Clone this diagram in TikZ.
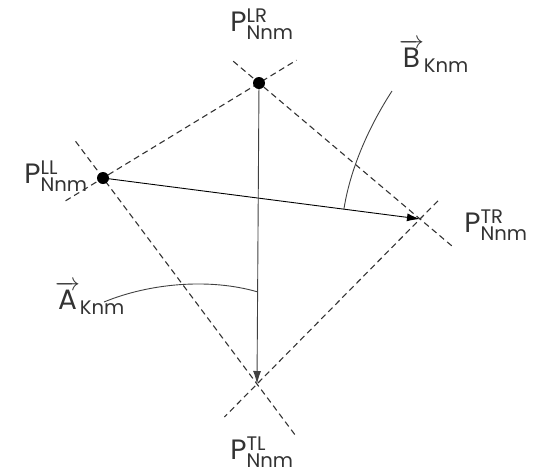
\documentclass[tikz,border=0pt]{standalone}
\usepackage{amsmath}
\usepackage{fontspec}
\setmainfont{Poppins}
\usetikzlibrary{calc,arrows.meta}

\tikzset{
  edge/.style={dash pattern=on 6pt off 4pt, line width=1.1pt, black!80},
  vec/.style={-{Latex[length=13pt,width=8pt]}, line width=0.9pt},
  vertex/.style={circle, fill=black, inner sep=0pt, minimum size=12pt},
  lbl/.style={font=\fontsize{28}{32}\selectfont, text=black!80, inner sep=0pt}
}

\begin{document}
\begin{tikzpicture}[x=1pt,y=-1pt]
    \useasboundingbox (0,0) rectangle (533,475);
    % corners
    \coordinate (LR) at (259,83);
    \coordinate (LL) at (103,178);
    \coordinate (TR) at (420,219);
    \coordinate (TL) at (257,384);
    % dashed sides
    \draw[edge] ($(LL)!-0.24!(LR)$) -- ($(LR)!-0.24!(LL)$);
    \draw[edge] ($(LR)!-0.16!(TR)$) -- ($(TR)!-0.2!(LR)$);
    \draw[edge] ($(TR)!-0.11!(TL)$) -- ($(TL)!-0.2!(TR)$);
    \draw[edge] ($(TL)!-0.245!(LL)$) -- ($(LL)!-0.18!(TL)$);
    % vectors
    \draw[vec] (LL) -- (TR);
    \draw[vec, black!75] (LR) -- (TL);
    \node[vertex] (dLR) at (LR) {};
    \node[vertex] (dLL) at (LL) {};
    % labels
    \node[lbl] (pLR) at (262,24) {P$^{\text{LR}}_{\text{Nnm}}$};
    \node[lbl] (pLL) at (56,176) {P$^{\text{LL}}_{\text{Nnm}}$};
    \node[lbl] (pTR) at (496,225) {P$^{\text{TR}}_{\text{Nnm}}$};
    \node[lbl] (pTL) at (262,452) {P$^{\text{TL}}_{\text{Nnm}}$};
    \node[lbl] (vB) at (434,56) {$\overrightarrow{\text{B}}_{\text{Knm}}$};
    \node[lbl] (vA) at (90,298) {$\overrightarrow{\text{A}}_{\text{Knm}}$};
    % pointers
    \coordinate (bTip) at (392,91);
    \coordinate (aTip) at (104,302);
    \draw[line width=0.9pt, black!75] (bTip) .. controls (368,128) and (350,170) .. ($(LL)!0.76!(TR)$);
    \draw[line width=0.9pt, black!75] (aTip) .. controls (150,283) and (210,278) .. ($(LR)!0.694!(TL)$);
\end{tikzpicture}
\end{document}
